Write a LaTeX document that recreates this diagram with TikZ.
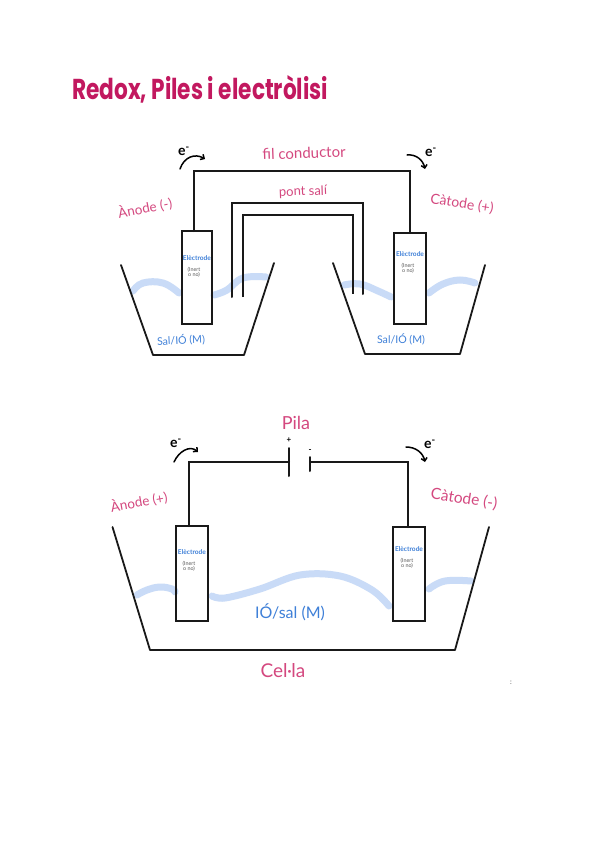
\documentclass[tikz,border=0pt]{standalone}
\usepackage{fontspec}
\setmainfont{Lato}
\newfontfamily\titlefont{Poppins}
\usetikzlibrary{arrows.meta}
\definecolor{ttlpink}{HTML}{C2185F}
\definecolor{lblpink}{HTML}{D4487F}
\definecolor{lblblue}{HTML}{3F80D8}
\definecolor{water}{HTML}{C9DBF7}
\definecolor{inert}{HTML}{5A5A5A}
\tikzset{
  x=1pt,y=-1pt,
  wirel/.style={draw=black!90,line width=2pt,line cap=round,line join=miter},
  thickwire/.style={draw=black!90,line width=2.5pt,line cap=butt,line join=miter},
  vessel/.style={draw=black!90,line width=1.8pt,line cap=round,line join=round},
  liquid/.style={draw=water,line width=7pt,line cap=round},
  electrode/.style={draw=black!90,line width=2.4pt,inner sep=0pt},
  pinklbl/.style={text=lblpink,font=\fontsize{13.5}{15}\selectfont,inner sep=0pt},
  bluelbl/.style={text=lblblue,font=\fontsize{10.6}{12}\selectfont,inner sep=0pt},
  elname/.style={text=lblblue,font=\bfseries\fontsize{6.6}{7}\selectfont,inner sep=0pt},
  elinert/.style={text=inert,align=center,font=\fontsize{5.4}{6}\selectfont,inner sep=0pt},
  echarge/.style={text=black,font=\bfseries\fontsize{14}{14}\selectfont,inner sep=0pt},
  flow/.style={draw=black,line width=1.5pt,line cap=round,-{Straight Barb[length=3pt,width=6pt]}},
  polarity/.style={text=black,font=\bfseries\fontsize{8}{8}\selectfont,inner sep=0pt},
}
\begin{document}
\begin{tikzpicture}
\useasboundingbox (0,0) rectangle (600,848);
\fill[white] (0,0) rectangle (600,848);

% title
\node[anchor=base west,inner sep=0pt,text=ttlpink] (title) at (72,100)
  {\resizebox{256pt}{24pt}{\titlefont\bfseries Redox, Piles i electròlisi}};

% ===== upper diagram =====
\draw[liquid] plot[smooth,tension=0.7] coordinates {(133,291) (143,283) (163,283) (179,293)};
\draw[liquid] plot[smooth,tension=0.7] coordinates {(214,295) (227,290) (243,278) (266,277)};
\draw[liquid] plot[smooth,tension=0.7] coordinates {(344,285) (360,284) (378,291) (391,297)};
\draw[liquid] plot[smooth,tension=0.7] coordinates {(429,293) (443,284) (460,280) (475,283)};

\coordinate (vA1) at (121,265); \coordinate (vA2) at (153,355);
\coordinate (vA3) at (244,355); \coordinate (vA4) at (274,263);
\draw[vessel] (vA1) -- (vA2) -- (vA3) -- (vA4);
\coordinate (vB1) at (333,263); \coordinate (vB2) at (365,354);
\coordinate (vB3) at (460,354); \coordinate (vB4) at (485,265);
\draw[vessel] (vB1) -- (vB2) -- (vB3) -- (vB4);

\node[electrode,minimum width=30pt,minimum height=93pt] (elA) at (197,277.5) {};
\node[electrode,minimum width=32pt,minimum height=91pt] (elB) at (410,278.5) {};
\node[elname] at (197,258) {Elèctrode};
\node[elinert] at (194,272) {(Inert\\[-0.6pt]o no)};
\node[elname] at (410,254.5) {Elèctrode};
\node[elinert] at (408,268) {(Inert\\[-0.6pt]o no)};

\coordinate (wA) at (194,231); \coordinate (wAt) at (194,171);
\coordinate (wBt) at (410,171); \coordinate (wB) at (410,232);
\draw[wirel] (wA) -- (wAt) -- (wBt) -- (wB);

\coordinate (s1) at (232,297); \coordinate (s2) at (232,203);
\coordinate (s3) at (363,203); \coordinate (s4) at (363,294);
\draw[wirel] (s1) -- (s2) -- (s3) -- (s4);
\coordinate (t1) at (243,297); \coordinate (t2) at (243,215);
\coordinate (t3) at (353,215); \coordinate (t4) at (353,294);
\draw[thickwire] (t1) -- (t2) -- (t3) -- (t4);

\node[pinklbl,rotate=11] (l1) at (145,208) {Ànode (-)};
\node[pinklbl,font=\fontsize{14}{16}\selectfont,rotate=-9] (l2) at (462,204) {Càtode (+)};
\node[pinklbl,font=\fontsize{15}{17}\selectfont,rotate=2] (l3) at (304,153) {f{}il conductor};
\node[pinklbl,rotate=2,font=\fontsize{13}{15}\selectfont] (l4) at (303,192) {pont salí};
\node[bluelbl,rotate=3] (l5) at (181,340) {Sal/IÓ (M)};
\node[bluelbl] (l6) at (401,339) {Sal/IÓ (M)};

\node[echarge] (e1) at (184,151) {e\textsuperscript{-}};
\node[echarge] (e2) at (431,152) {e\textsuperscript{-}};
\coordinate (f1a) at (180,169); \coordinate (f1b) at (205,159);
\draw[flow] (f1a) .. controls (184,157) and (195,153) .. (f1b);
\coordinate (f2a) at (407,155); \coordinate (f2b) at (425,169);
\draw[flow] (f2a) .. controls (416,154) and (423,160) .. (f2b);

% ===== lower diagram =====
\draw[liquid] plot[smooth,tension=0.7] coordinates {(137,595) (147,590) (160,587) (172,589) (175,592)};
\draw[liquid] plot[smooth,tension=0.6] coordinates {(212,596) (225,598) (260,589) (300,575) (340,576) (372,590) (389,606)};
\draw[liquid] plot[smooth,tension=0.7] coordinates {(429,589) (445,581) (471,581)};

\coordinate (vC1) at (112.5,527); \coordinate (vC2) at (150,650);
\coordinate (vC3) at (455,650); \coordinate (vC4) at (489,527);
\draw[vessel] (vC1) -- (vC2) -- (vC3) -- (vC4);

\node[electrode,minimum width=32pt,minimum height=95pt] (elC) at (192,573.5) {};
\node[electrode,minimum width=32pt,minimum height=94pt] (elD) at (409,574) {};
\node[elname] at (192,552) {Elèctrode};
\node[elinert] at (189,566.5) {(Inert\\[-0.6pt]o no)};
\node[elname] at (409,549) {Elèctrode};
\node[elinert] at (407,563) {(Inert\\[-0.6pt]o no)};

\coordinate (cA) at (189,526); \coordinate (cAt) at (189,462);
\coordinate (bP) at (289,462);
\coordinate (bN) at (310,462); \coordinate (cBt) at (408,462);
\coordinate (cB) at (408,527);
\draw[wirel] (cA) -- (cAt) -- (bP);
\draw[wirel] (bN) -- (cBt) -- (cB);
\coordinate (bP1) at (289,448); \coordinate (bP2) at (289,476);
\coordinate (bN1) at (310,457); \coordinate (bN2) at (310,471);
\draw[wirel] (bP1) -- (bP2);
\draw[wirel] (bN1) -- (bN2);
\node[polarity] (pp) at (289,440) {+};
\node[polarity] (pm) at (310,451) {-};

\node[pinklbl,font=\fontsize{18}{20}\selectfont] (l7) at (296,423) {Pila};
\node[pinklbl,rotate=10] (l8) at (139,502) {Ànode (+)};
\node[pinklbl,rotate=-9,font=\fontsize{15.5}{17}\selectfont] (l9) at (464,499) {Càtode (-)};
\node[pinklbl,font=\fontsize{19}{21}\selectfont] (l10) at (283,671) {Cel·la};
\node[bluelbl,font=\fontsize{16}{18}\selectfont] (l11) at (290,612) {IÓ/sal (M)};

\node[echarge] (e3) at (176,443) {e\textsuperscript{-}};
\node[echarge] (e4) at (430,444) {e\textsuperscript{-}};
\coordinate (f3a) at (174,462); \coordinate (f3b) at (198,452);
\draw[flow] (f3a) .. controls (179,451) and (190,445) .. (f3b);
\coordinate (f4a) at (406,447); \coordinate (f4b) at (425,462);
\draw[flow] (f4a) .. controls (416,447) and (423,453) .. (f4b);

\node[text=black!70,font=\fontsize{7}{7}\selectfont,inner sep=0pt] (dot) at (511,683) {:};
\end{tikzpicture}
\end{document}
